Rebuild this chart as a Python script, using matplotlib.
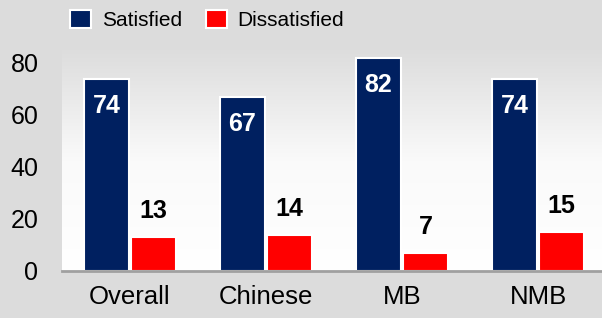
import numpy as np
import matplotlib.pyplot as plt
from matplotlib.patches import Patch
from matplotlib.colors import LinearSegmentedColormap

plt.rcParams['font.family'] = ['Liberation Sans', 'DejaVu Sans']

# ------------- datos -------------
categorias = ["Overall", "Chinese", "MB", "NMB"]
satisfied = [74, 67, 82, 74]
dissatisfied = [13, 14, 7, 15]
y_ticks = [0, 20, 40, 60, 80]

azul = "#002060"
rojo = "#ff0000"
gris = "#dcdcdc"

fig = plt.figure(figsize=(6.02, 3.18), dpi=100)
fig.patch.set_facecolor(gris)
# 2.6 px por unidad, base en y=271
ax = fig.add_axes([62/602, 47/318, 544/602, 221/318])

# fondo degradado (gris arriba, blanco abajo)
grad = np.linspace(0, 1, 256).reshape(-1, 1)
cmap = LinearSegmentedColormap.from_list("g", ["#ffffff", "#fafafa", "#dddddd"])
ax.imshow(grad, extent=[0, 1, 0, 1], transform=ax.transAxes, aspect="auto",
          cmap=cmap, origin="lower", zorder=0)

x = np.arange(len(categorias))
off = 0.173
w = 0.33
ax.bar(x - off, satisfied, w, color=azul, edgecolor="white", linewidth=1.5, zorder=2)
ax.bar(x + off, dissatisfied, w, color=rojo, edgecolor="white", linewidth=1.5, zorder=2)

for xi, v in zip(x, satisfied):
    ax.text(xi - off, v - 10.5, str(v), ha="center", va="center", color="white",
            fontsize=18, fontweight="bold", zorder=3)
for xi, v in zip(x, dissatisfied):
    ax.text(xi + off, v + 10, str(v), ha="center", va="center", color="black",
            fontsize=18, fontweight="bold", zorder=3)

ax.set_xlim(-0.5, 3.5)
ax.set_ylim(0, 85)
ax.set_yticks(y_ticks)
ax.set_xticks(x)
ax.set_xticklabels(categorias)
ax.tick_params(axis="y", length=0, pad=17, labelsize=18)
ax.tick_params(axis="x", length=0, pad=10, labelsize=18.5)
for s in ["top", "right", "left"]:
    ax.spines[s].set_visible(False)
ax.spines["bottom"].set_color("#a0a0a0")
ax.spines["bottom"].set_linewidth(2)
ax.spines["bottom"].set_zorder(4)

handles = [Patch(facecolor=azul, edgecolor="white", linewidth=1.5),
           Patch(facecolor=rojo, edgecolor="white", linewidth=1.5)]
fig.legend(handles, ["Satisfied", "Dissatisfied"], loc="center left",
           bbox_to_anchor=(62/602, 1 - 20/318), ncol=2, frameon=False,
           fontsize=15, handlelength=1.0, handleheight=1.0,
           handletextpad=0.5, columnspacing=1.15, borderaxespad=0)

fig.savefig("out.png", dpi=100, facecolor=fig.get_facecolor())
